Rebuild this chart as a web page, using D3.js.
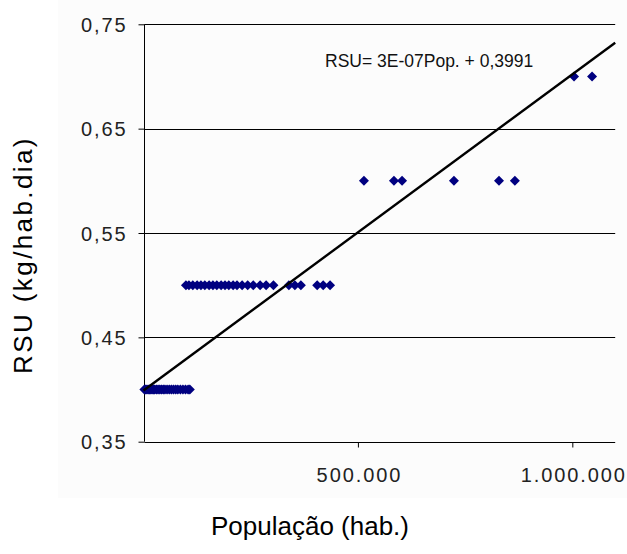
<!DOCTYPE html>
<html>
<head>
<meta charset="utf-8">
<script src="https://cdn.jsdelivr.net/npm/d3@7"></script>
<style>
html,body{margin:0;padding:0;background:#fff;}
svg{display:block;}
</style>
</head>
<body>
<svg id="chart" width="627" height="554"></svg>
<script>
// ---- data ----
const pop040 = [2000,5000,8000,11000,14000,17000,20000,23000,26000,30000,34000,38000,42000,46000,50000,55000,60000,65000,70000,75000,80000,86000,92000,98000,104000,108000];
const pop050 = [99000,106000,115000,125000,134000,143000,153000,162000,171000,181000,190000,199000,209000,218000,230000,243000,256000,272000,286000,303000,339000,353000,367000,405000,419000,435000];
const pop060 = [514000,584000,603000,724000,829000,866000];
const pop070 = [1004000,1046000];
const rsuLevels = [0.40, 0.50, 0.60, 0.70];
const trendX = [0, 1100000];
const trendY = [0.3991, 0.7324];
const yTicks = [0.35, 0.45, 0.55, 0.65, 0.75];
const yTickLabels = ["0,35","0,45","0,55","0,65","0,75"];
const xTicks = [500000, 1000000];
const xTickLabels = ["500.000","1.000.000"];
const equationText = "RSU= 3E-07Pop. + 0,3991";
const xTitle = "População (hab.)";
const yTitle = "RSU (kg/hab.dia)";

const points = [];
[pop040, pop050, pop060, pop070].forEach((arr, i) => arr.forEach(p => points.push({x: p, y: rsuLevels[i]})));

// ---- layout ----
const svg = d3.select("#chart");
const x = d3.scaleLinear().domain([0, 1100000]).range([143.5, 615.2]);
const y = d3.scaleLinear().domain([0.35, 0.75]).range([441.7, 24.3]);
const axisX = 144.5;
const FONT = "'Liberation Sans', Arial, sans-serif";

svg.append("rect").attr("x", 58).attr("y", 0).attr("width", 569).attr("height", 498).attr("fill", "#fcfcfc");

// gridlines
svg.append("g").selectAll("line").data(yTicks.slice(1)).join("line")
  .attr("x1", axisX).attr("x2", x(1100000))
  .attr("y1", d => Math.round(y(d)) + 0.5).attr("y2", d => Math.round(y(d)) + 0.5)
  .attr("stroke", "#000").attr("stroke-width", 1);

// y axis
const yAxis = d3.axisLeft(y).tickValues(yTicks).tickFormat((d, i) => yTickLabels[i]).tickSize(6).tickPadding(13);
const gy = svg.append("g").attr("transform", `translate(${axisX},0)`).call(yAxis);
gy.select(".domain").attr("stroke", "#000").attr("d", `M-0,${y(0.35)}V${y(0.75)}`);
gy.selectAll(".tick line").attr("stroke", "#000");
gy.selectAll(".tick text").attr("font-family", FONT).attr("font-size", 20).attr("fill", "#222")
  .attr("letter-spacing", "1.9px").attr("dy", "0.36em").attr("x", -17);

// x axis
const xAxis = d3.axisBottom(x).tickValues(xTicks).tickFormat((d, i) => xTickLabels[i]).tickSize(5).tickPadding(20);
const gx = svg.append("g").attr("transform", `translate(0,${Math.round(y(0.35)) + 0.5})`).call(xAxis);
gx.select(".domain").attr("stroke", "#000").attr("d", `M${axisX},0H${x(1100000)}`);
gx.selectAll(".tick line").attr("stroke", "#000");
gx.selectAll(".tick text").attr("font-family", FONT).attr("font-size", 20).attr("fill", "#222")
  .attr("letter-spacing", "1.9px").attr("dx", "1px");

// points
const diamond = "M0,-5L5,0L0,5L-5,0Z";
svg.append("g").selectAll("path").data(points).join("path")
  .attr("d", diamond)
  .attr("transform", d => `translate(${x(d.x)},${y(d.y)})`)
  .attr("fill", "#000080");

// trend line
const line = d3.line().x(d => x(d[0])).y(d => y(d[1]));
svg.append("path").datum(trendX.map((v, i) => [v, trendY[i]]))
  .attr("d", line).attr("stroke", "#000").attr("stroke-width", 2.4).attr("fill", "none");

// equation
svg.append("text").attr("x", 325).attr("y", 67).attr("font-family", FONT).attr("font-size", 17.5)
  .attr("fill", "#111").text(equationText);

// titles
svg.append("text").attr("x", 310).attr("y", 535).attr("text-anchor", "middle")
  .attr("font-family", FONT).attr("font-size", 26).attr("fill", "#000").text(xTitle);
svg.append("text").attr("transform", "translate(32,255) rotate(-90)").attr("text-anchor", "middle")
  .attr("font-family", FONT).attr("font-size", 26).attr("letter-spacing", "2.4px").attr("fill", "#000").text(yTitle);
</script>
</body>
</html>
